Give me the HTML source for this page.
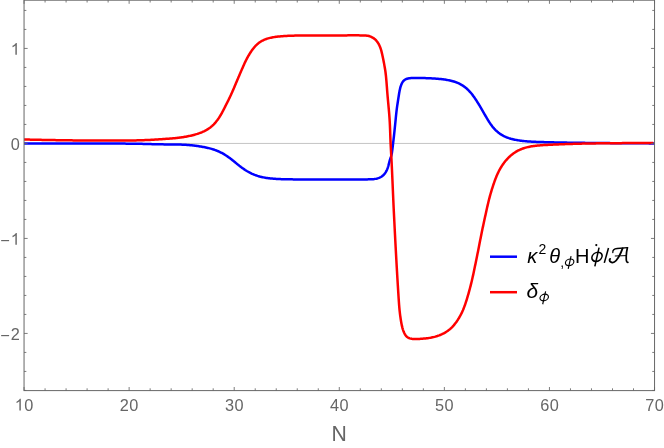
<!DOCTYPE html>
<html><head><meta charset="utf-8"><title>plot</title>
<style>
html,body{margin:0;padding:0;background:#fff;}
svg{display:block;will-change:transform;}
text{font-family:"Liberation Sans",sans-serif;}
</style></head>
<body>
<svg width="664" height="448" viewBox="0 0 664 448">
<rect width="664" height="448" fill="#fff"/>
<line x1="24.05" x2="654.55" y1="143.43" y2="143.43" stroke="#c4c4c4" stroke-width="1"/>
<path d="M24.05,143.50 L25.71,143.50 L26.53,143.50 L27.45,143.50 L28.40,143.50 L29.35,143.50 L30.30,143.50 L31.26,143.50 L32.21,143.50 L33.17,143.50 L34.14,143.50 L35.11,143.50 L36.09,143.50 L37.08,143.50 L38.07,143.50 L39.06,143.50 L40.06,143.50 L41.05,143.50 L42.05,143.50 L43.05,143.50 L44.05,143.50 L45.05,143.50 L46.05,143.50 L47.05,143.50 L48.05,143.50 L49.05,143.50 L50.05,143.50 L51.05,143.50 L52.05,143.50 L53.05,143.50 L54.05,143.50 L55.05,143.50 L56.05,143.50 L57.05,143.50 L58.05,143.50 L59.05,143.50 L60.05,143.50 L61.05,143.50 L62.05,143.50 L63.05,143.50 L64.05,143.50 L65.05,143.50 L66.05,143.50 L67.05,143.50 L68.05,143.50 L69.05,143.50 L70.05,143.50 L71.05,143.50 L72.05,143.50 L73.05,143.50 L74.05,143.50 L75.05,143.50 L76.05,143.50 L77.05,143.50 L78.05,143.50 L79.05,143.50 L80.05,143.50 L81.05,143.50 L82.05,143.50 L83.05,143.50 L84.05,143.50 L85.05,143.50 L86.05,143.50 L87.05,143.50 L88.05,143.50 L89.05,143.50 L90.05,143.50 L91.05,143.50 L92.05,143.50 L93.05,143.50 L94.05,143.50 L95.05,143.50 L96.05,143.50 L97.05,143.50 L98.05,143.50 L99.05,143.50 L100.05,143.50 L101.05,143.50 L102.05,143.50 L103.05,143.50 L104.05,143.51 L105.05,143.51 L106.05,143.51 L107.05,143.51 L108.05,143.52 L109.05,143.52 L110.05,143.52 L111.05,143.53 L112.05,143.53 L113.05,143.53 L114.05,143.54 L115.05,143.55 L116.05,143.55 L117.05,143.56 L118.05,143.56 L119.05,143.57 L120.05,143.58 L121.05,143.59 L122.05,143.60 L123.05,143.60 L124.05,143.61 L125.05,143.62 L126.05,143.63 L127.05,143.64 L128.05,143.65 L129.05,143.66 L130.05,143.67 L131.05,143.68 L132.05,143.70 L133.05,143.71 L134.05,143.72 L135.05,143.74 L136.05,143.75 L137.05,143.77 L138.05,143.79 L139.05,143.80 L140.05,143.82 L141.05,143.84 L142.05,143.87 L143.05,143.89 L144.05,143.92 L145.05,143.94 L146.05,143.97 L147.05,144.00 L148.05,144.03 L149.05,144.05 L150.04,144.08 L151.04,144.11 L152.04,144.14 L153.04,144.17 L154.04,144.19 L155.04,144.22 L156.04,144.24 L157.04,144.27 L158.04,144.29 L159.04,144.31 L160.04,144.33 L161.04,144.34 L162.04,144.36 L163.04,144.37 L164.04,144.39 L165.04,144.40 L166.04,144.41 L167.04,144.42 L168.04,144.42 L169.04,144.43 L170.04,144.44 L171.04,144.45 L172.04,144.46 L173.04,144.47 L174.04,144.48 L175.04,144.49 L176.04,144.50 L177.04,144.52 L178.04,144.54 L179.04,144.56 L180.04,144.59 L181.04,144.62 L182.04,144.66 L183.04,144.70 L184.03,144.75 L185.03,144.80 L186.03,144.86 L187.03,144.92 L188.02,144.99 L189.02,145.07 L190.01,145.16 L191.01,145.25 L192.00,145.35 L193.00,145.46 L193.99,145.58 L194.98,145.70 L195.97,145.83 L196.96,145.97 L197.95,146.11 L198.94,146.26 L199.92,146.42 L200.91,146.58 L201.89,146.75 L202.88,146.92 L203.86,147.10 L204.84,147.29 L205.82,147.49 L206.80,147.69 L207.77,147.91 L208.74,148.14 L209.71,148.38 L210.67,148.63 L211.63,148.90 L212.59,149.18 L213.53,149.48 L214.48,149.80 L215.41,150.14 L216.34,150.49 L217.27,150.86 L218.18,151.24 L219.09,151.65 L219.99,152.07 L220.88,152.51 L221.77,152.97 L222.64,153.44 L223.51,153.93 L224.36,154.43 L225.21,154.95 L226.05,155.49 L226.88,156.04 L227.70,156.60 L228.52,157.17 L229.32,157.76 L230.12,158.36 L230.91,158.96 L231.70,159.58 L232.48,160.20 L233.26,160.83 L234.04,161.46 L234.81,162.09 L235.58,162.72 L236.36,163.36 L237.13,163.99 L237.91,164.62 L238.69,165.24 L239.47,165.86 L240.26,166.47 L241.05,167.08 L241.86,167.67 L242.66,168.25 L243.48,168.83 L244.30,169.39 L245.13,169.94 L245.97,170.47 L246.82,170.99 L247.68,171.49 L248.55,171.98 L249.42,172.46 L250.30,172.91 L251.20,173.35 L252.10,173.78 L253.00,174.18 L253.92,174.57 L254.84,174.94 L255.77,175.28 L256.71,175.61 L257.65,175.92 L258.60,176.21 L259.55,176.49 L260.51,176.74 L261.48,176.97 L262.45,177.19 L263.43,177.39 L264.40,177.58 L265.39,177.75 L266.37,177.90 L267.36,178.05 L268.35,178.18 L269.34,178.30 L270.33,178.41 L271.32,178.51 L272.32,178.60 L273.31,178.69 L274.31,178.77 L275.31,178.84 L276.30,178.90 L277.30,178.96 L278.30,179.01 L279.30,179.06 L280.30,179.10 L281.30,179.14 L282.30,179.18 L283.30,179.21 L284.29,179.24 L285.29,179.26 L286.29,179.29 L287.29,179.31 L288.29,179.32 L289.29,179.34 L290.29,179.35 L291.29,179.36 L292.29,179.37 L293.29,179.38 L294.29,179.38 L295.29,179.39 L296.29,179.39 L297.29,179.39 L298.29,179.39 L299.29,179.40 L300.29,179.40 L301.29,179.40 L302.29,179.40 L303.29,179.40 L304.29,179.40 L305.29,179.40 L306.29,179.40 L307.29,179.40 L308.29,179.40 L309.29,179.40 L310.29,179.40 L311.29,179.40 L312.29,179.40 L313.29,179.40 L314.29,179.40 L315.29,179.40 L316.29,179.40 L317.29,179.40 L318.29,179.40 L319.29,179.40 L320.29,179.40 L321.29,179.40 L322.29,179.40 L323.29,179.40 L324.29,179.40 L325.29,179.40 L326.29,179.40 L327.29,179.40 L328.29,179.40 L329.29,179.40 L330.29,179.40 L331.29,179.40 L332.29,179.40 L333.29,179.40 L334.29,179.41 L335.29,179.41 L336.29,179.41 L337.29,179.41 L338.29,179.41 L339.29,179.41 L340.29,179.41 L341.29,179.42 L342.29,179.42 L343.29,179.42 L344.29,179.42 L345.29,179.43 L346.29,179.43 L347.29,179.43 L348.29,179.43 L349.29,179.44 L350.29,179.44 L351.29,179.44 L352.29,179.44 L353.29,179.44 L354.29,179.44 L355.29,179.45 L356.29,179.45 L357.29,179.45 L358.29,179.45 L359.29,179.45 L360.29,179.45 L361.29,179.44 L362.29,179.44 L363.29,179.43 L364.29,179.43 L365.29,179.42 L366.29,179.41 L367.29,179.39 L368.30,179.37 L369.30,179.35 L370.30,179.32 L371.30,179.28 L372.29,179.23 L373.29,179.14 L374.29,179.03 L375.29,178.87 L376.28,178.68 L377.25,178.44 L378.20,178.17 L379.13,177.84 L380.04,177.45 L380.92,176.99 L381.77,176.46 L382.57,175.86 L383.31,175.20 L384.01,174.50 L384.65,173.74 L385.23,172.94 L385.78,172.10 L386.27,171.22 L386.72,170.32 L387.12,169.41 L387.48,168.48 L387.81,167.54 L388.12,166.59 L388.41,165.62 L388.67,164.65 L388.92,163.68 L389.16,162.71 L389.39,161.74 L389.64,160.77 L389.92,159.81 L390.23,158.86 L390.56,157.93 L390.89,156.99 L391.19,156.05 L391.44,155.10 L391.66,154.13 L391.84,153.16 L392.01,152.18 L392.15,151.19 L392.29,150.19 L392.42,149.19 L392.54,148.19 L392.66,147.19 L392.77,146.19 L392.89,145.19 L393.01,144.20 L393.13,143.20 L393.24,142.21 L393.36,141.21 L393.48,140.22 L393.59,139.23 L393.70,138.23 L393.81,137.24 L393.92,136.24 L394.03,135.25 L394.14,134.26 L394.24,133.26 L394.34,132.27 L394.45,131.27 L394.55,130.28 L394.65,129.28 L394.76,128.29 L394.86,127.29 L394.96,126.30 L395.07,125.30 L395.17,124.31 L395.27,123.31 L395.37,122.32 L395.47,121.32 L395.57,120.33 L395.67,119.33 L395.76,118.34 L395.86,117.34 L395.96,116.35 L396.06,115.35 L396.17,114.36 L396.27,113.36 L396.38,112.37 L396.49,111.37 L396.61,110.38 L396.73,109.39 L396.86,108.40 L396.99,107.41 L397.13,106.42 L397.27,105.43 L397.42,104.44 L397.57,103.45 L397.72,102.46 L397.87,101.47 L398.03,100.48 L398.18,99.50 L398.34,98.51 L398.49,97.52 L398.65,96.53 L398.80,95.54 L398.96,94.55 L399.11,93.56 L399.28,92.57 L399.45,91.59 L399.64,90.60 L399.84,89.63 L400.06,88.65 L400.31,87.68 L400.59,86.72 L400.90,85.76 L401.24,84.82 L401.63,83.90 L402.07,83.00 L402.57,82.13 L403.14,81.32 L403.79,80.59 L404.52,79.97 L405.33,79.45 L406.21,79.04 L407.14,78.71 L408.11,78.47 L409.10,78.31 L410.09,78.19 L411.08,78.11 L412.08,78.05 L413.08,78.01 L414.08,77.97 L415.09,77.95 L416.09,77.93 L417.10,77.92 L418.10,77.92 L419.10,77.93 L420.10,77.94 L421.10,77.96 L422.10,77.99 L423.10,78.02 L424.10,78.05 L425.10,78.09 L426.10,78.13 L427.10,78.17 L428.10,78.22 L429.10,78.26 L430.10,78.31 L431.09,78.36 L432.09,78.42 L433.09,78.47 L434.09,78.54 L435.09,78.60 L436.08,78.67 L437.08,78.75 L438.08,78.83 L439.07,78.92 L440.07,79.01 L441.06,79.11 L442.05,79.23 L443.05,79.34 L444.04,79.47 L445.02,79.61 L446.01,79.77 L446.99,79.93 L447.98,80.11 L448.95,80.30 L449.93,80.50 L450.90,80.73 L451.86,80.97 L452.82,81.23 L453.77,81.50 L454.72,81.80 L455.66,82.12 L456.58,82.46 L457.50,82.83 L458.40,83.22 L459.30,83.64 L460.18,84.09 L461.04,84.55 L461.89,85.05 L462.73,85.57 L463.54,86.12 L464.35,86.69 L465.13,87.29 L465.90,87.91 L466.65,88.55 L467.38,89.21 L468.10,89.89 L468.79,90.59 L469.48,91.31 L470.14,92.05 L470.79,92.80 L471.43,93.56 L472.05,94.34 L472.66,95.13 L473.25,95.92 L473.84,96.73 L474.41,97.55 L474.98,98.37 L475.54,99.20 L476.09,100.03 L476.63,100.87 L477.16,101.71 L477.69,102.56 L478.22,103.41 L478.74,104.26 L479.26,105.12 L479.77,105.98 L480.28,106.84 L480.79,107.70 L481.29,108.56 L481.80,109.43 L482.30,110.30 L482.79,111.16 L483.29,112.03 L483.79,112.90 L484.29,113.77 L484.78,114.64 L485.28,115.50 L485.78,116.37 L486.28,117.24 L486.79,118.10 L487.30,118.96 L487.81,119.81 L488.34,120.66 L488.87,121.51 L489.41,122.35 L489.96,123.18 L490.52,124.00 L491.10,124.81 L491.69,125.61 L492.30,126.40 L492.92,127.17 L493.56,127.93 L494.21,128.67 L494.89,129.39 L495.58,130.10 L496.29,130.78 L497.03,131.44 L497.77,132.09 L498.54,132.70 L499.33,133.29 L500.13,133.86 L500.95,134.41 L501.79,134.92 L502.64,135.41 L503.51,135.88 L504.39,136.32 L505.29,136.73 L506.20,137.12 L507.12,137.49 L508.04,137.83 L508.98,138.16 L509.93,138.46 L510.88,138.74 L511.84,139.00 L512.81,139.24 L513.78,139.47 L514.75,139.68 L515.73,139.88 L516.71,140.06 L517.69,140.23 L518.68,140.39 L519.67,140.53 L520.66,140.67 L521.65,140.80 L522.64,140.91 L523.64,141.02 L524.63,141.12 L525.63,141.22 L526.62,141.30 L527.62,141.39 L528.62,141.46 L529.61,141.53 L530.61,141.59 L531.61,141.65 L532.61,141.71 L533.61,141.76 L534.61,141.81 L535.60,141.85 L536.60,141.89 L537.60,141.93 L538.60,141.97 L539.60,142.00 L540.60,142.03 L541.60,142.06 L542.60,142.09 L543.60,142.12 L544.60,142.14 L545.60,142.17 L546.60,142.19 L547.60,142.22 L548.60,142.24 L549.60,142.27 L550.60,142.29 L551.60,142.31 L552.60,142.33 L553.60,142.36 L554.60,142.38 L555.60,142.40 L556.60,142.42 L557.60,142.44 L558.60,142.47 L559.59,142.49 L560.59,142.51 L561.59,142.53 L562.59,142.55 L563.59,142.56 L564.59,142.58 L565.59,142.60 L566.59,142.62 L567.59,142.63 L568.59,142.65 L569.59,142.67 L570.59,142.68 L571.59,142.70 L572.59,142.71 L573.59,142.73 L574.59,142.74 L575.59,142.76 L576.59,142.77 L577.59,142.78 L578.59,142.80 L579.59,142.81 L580.59,142.82 L581.59,142.83 L582.59,142.85 L583.59,142.86 L584.59,142.87 L585.59,142.88 L586.59,142.89 L587.59,142.90 L588.59,142.91 L589.59,142.93 L590.59,142.94 L591.59,142.95 L592.59,142.96 L593.59,142.97 L594.59,142.98 L595.59,142.99 L596.59,143.00 L597.59,143.01 L598.59,143.02 L599.59,143.03 L600.59,143.04 L601.59,143.05 L602.59,143.06 L603.59,143.07 L604.59,143.07 L605.59,143.08 L606.59,143.09 L607.59,143.10 L608.59,143.11 L609.59,143.12 L610.59,143.13 L611.59,143.13 L612.59,143.14 L613.59,143.15 L614.59,143.16 L615.59,143.17 L616.59,143.17 L617.59,143.18 L618.59,143.19 L619.59,143.20 L620.59,143.20 L621.59,143.21 L622.59,143.22 L623.59,143.22 L624.59,143.23 L625.59,143.24 L626.59,143.24 L627.59,143.25 L628.59,143.26 L629.59,143.26 L630.59,143.27 L631.59,143.28 L632.59,143.28 L633.59,143.29 L634.59,143.30 L635.59,143.30 L636.59,143.31 L637.59,143.31 L638.58,143.32 L639.58,143.32 L640.57,143.33 L641.56,143.34 L642.54,143.34 L643.52,143.35 L644.49,143.35 L645.45,143.36 L646.40,143.36 L647.35,143.37 L648.29,143.37 L649.22,143.38 L650.16,143.38 L651.09,143.38 L651.98,143.39 L652.80,143.39 L654.50,143.40" fill="none" stroke="#0000ff" stroke-width="2.5" stroke-linejoin="round"/>
<path d="M24.05,139.50 L25.71,139.54 L26.53,139.56 L27.45,139.58 L28.40,139.60 L29.35,139.62 L30.30,139.64 L31.25,139.67 L32.21,139.69 L33.17,139.71 L34.14,139.73 L35.11,139.75 L36.09,139.77 L37.08,139.79 L38.06,139.81 L39.06,139.83 L40.05,139.85 L41.05,139.87 L42.05,139.89 L43.05,139.91 L44.05,139.93 L45.05,139.95 L46.05,139.97 L47.05,139.99 L48.04,140.01 L49.04,140.02 L50.04,140.04 L51.04,140.06 L52.04,140.07 L53.04,140.09 L54.04,140.11 L55.04,140.12 L56.04,140.14 L57.04,140.15 L58.04,140.17 L59.04,140.18 L60.04,140.20 L61.04,140.21 L62.04,140.23 L63.04,140.24 L64.04,140.25 L65.04,140.27 L66.04,140.28 L67.04,140.30 L68.04,140.31 L69.04,140.32 L70.04,140.34 L71.04,140.35 L72.04,140.36 L73.04,140.38 L74.04,140.39 L75.04,140.40 L76.04,140.41 L77.04,140.43 L78.04,140.44 L79.04,140.45 L80.04,140.46 L81.04,140.47 L82.04,140.48 L83.04,140.49 L84.04,140.50 L85.04,140.51 L86.04,140.52 L87.04,140.53 L88.04,140.54 L89.04,140.55 L90.04,140.55 L91.04,140.56 L92.04,140.56 L93.04,140.57 L94.04,140.57 L95.04,140.58 L96.04,140.58 L97.04,140.59 L98.04,140.59 L99.04,140.59 L100.04,140.59 L101.04,140.59 L102.04,140.59 L103.04,140.59 L104.04,140.59 L105.04,140.59 L106.04,140.59 L107.04,140.59 L108.04,140.58 L109.04,140.58 L110.04,140.58 L111.04,140.58 L112.04,140.57 L113.04,140.57 L114.04,140.57 L115.04,140.56 L116.04,140.56 L117.04,140.55 L118.04,140.55 L119.04,140.54 L120.04,140.54 L121.04,140.53 L122.04,140.52 L123.04,140.52 L124.04,140.51 L125.04,140.50 L126.04,140.50 L127.04,140.49 L128.04,140.48 L129.04,140.47 L130.04,140.46 L131.04,140.45 L132.04,140.44 L133.04,140.43 L134.04,140.41 L135.04,140.40 L136.04,140.38 L137.04,140.36 L138.04,140.34 L139.04,140.32 L140.04,140.29 L141.04,140.26 L142.04,140.23 L143.04,140.20 L144.03,140.16 L145.03,140.12 L146.03,140.08 L147.03,140.03 L148.03,139.98 L149.03,139.93 L150.03,139.88 L151.03,139.82 L152.02,139.76 L153.02,139.70 L154.02,139.64 L155.02,139.58 L156.02,139.52 L157.02,139.46 L158.02,139.39 L159.01,139.33 L160.01,139.26 L161.01,139.20 L162.01,139.13 L163.01,139.07 L164.01,139.00 L165.00,138.93 L166.00,138.86 L167.00,138.79 L168.00,138.72 L169.00,138.65 L169.99,138.58 L170.99,138.50 L171.99,138.42 L172.98,138.33 L173.98,138.24 L174.97,138.15 L175.97,138.05 L176.96,137.95 L177.95,137.83 L178.95,137.72 L179.94,137.59 L180.93,137.46 L181.91,137.32 L182.90,137.17 L183.89,137.01 L184.87,136.84 L185.86,136.67 L186.84,136.48 L187.82,136.29 L188.80,136.09 L189.77,135.88 L190.75,135.66 L191.72,135.43 L192.69,135.19 L193.66,134.94 L194.62,134.68 L195.58,134.41 L196.54,134.12 L197.49,133.83 L198.43,133.51 L199.38,133.19 L200.31,132.85 L201.24,132.49 L202.16,132.11 L203.07,131.71 L203.97,131.30 L204.85,130.86 L205.73,130.40 L206.59,129.92 L207.44,129.41 L208.27,128.88 L209.08,128.33 L209.88,127.75 L210.66,127.15 L211.41,126.53 L212.16,125.88 L212.88,125.21 L213.58,124.52 L214.27,123.80 L214.94,123.07 L215.59,122.33 L216.22,121.57 L216.84,120.79 L217.44,120.00 L218.02,119.19 L218.59,118.38 L219.14,117.55 L219.68,116.72 L220.20,115.87 L220.71,115.01 L221.21,114.15 L221.70,113.28 L222.18,112.41 L222.65,111.53 L223.11,110.64 L223.57,109.75 L224.02,108.86 L224.47,107.97 L224.92,107.08 L225.37,106.18 L225.82,105.29 L226.27,104.40 L226.72,103.50 L227.17,102.61 L227.62,101.72 L228.07,100.82 L228.51,99.93 L228.95,99.03 L229.39,98.13 L229.83,97.24 L230.26,96.33 L230.69,95.43 L231.11,94.52 L231.52,93.61 L231.93,92.70 L232.34,91.79 L232.74,90.87 L233.13,89.96 L233.53,89.04 L233.92,88.12 L234.30,87.19 L234.69,86.27 L235.08,85.35 L235.46,84.43 L235.85,83.50 L236.23,82.58 L236.62,81.66 L237.01,80.74 L237.40,79.82 L237.79,78.90 L238.18,77.98 L238.57,77.06 L238.97,76.14 L239.36,75.22 L239.76,74.30 L240.15,73.38 L240.55,72.46 L240.95,71.55 L241.34,70.63 L241.74,69.71 L242.14,68.79 L242.54,67.88 L242.94,66.96 L243.34,66.04 L243.74,65.13 L244.16,64.22 L244.57,63.31 L245.00,62.41 L245.43,61.51 L245.86,60.61 L246.31,59.72 L246.77,58.83 L247.24,57.95 L247.72,57.08 L248.21,56.21 L248.71,55.35 L249.22,54.49 L249.74,53.64 L250.28,52.80 L250.82,51.96 L251.38,51.14 L251.95,50.32 L252.54,49.52 L253.14,48.73 L253.75,47.95 L254.38,47.19 L255.03,46.45 L255.70,45.73 L256.39,45.04 L257.10,44.37 L257.83,43.73 L258.59,43.11 L259.37,42.53 L260.17,41.97 L260.99,41.45 L261.83,40.96 L262.69,40.51 L263.57,40.08 L264.46,39.69 L265.37,39.32 L266.30,38.98 L267.23,38.67 L268.18,38.38 L269.13,38.12 L270.09,37.88 L271.06,37.66 L272.03,37.46 L273.01,37.28 L273.99,37.11 L274.97,36.96 L275.96,36.83 L276.95,36.70 L277.94,36.59 L278.94,36.49 L279.93,36.39 L280.93,36.30 L281.92,36.22 L282.92,36.15 L283.92,36.09 L284.91,36.02 L285.91,35.97 L286.91,35.91 L287.91,35.87 L288.91,35.82 L289.91,35.78 L290.91,35.74 L291.91,35.71 L292.91,35.67 L293.91,35.64 L294.91,35.62 L295.90,35.59 L296.90,35.57 L297.90,35.55 L298.90,35.53 L299.90,35.52 L300.90,35.50 L301.90,35.49 L302.90,35.48 L303.90,35.47 L304.90,35.46 L305.90,35.45 L306.90,35.44 L307.90,35.43 L308.90,35.43 L309.90,35.42 L310.90,35.42 L311.90,35.41 L312.90,35.41 L313.90,35.41 L314.90,35.41 L315.90,35.40 L316.90,35.40 L317.90,35.40 L318.90,35.40 L319.90,35.40 L320.90,35.40 L321.90,35.40 L322.90,35.40 L323.90,35.40 L324.90,35.40 L325.90,35.40 L326.90,35.40 L327.90,35.40 L328.90,35.40 L329.90,35.40 L330.90,35.40 L331.90,35.40 L332.90,35.40 L333.90,35.40 L334.90,35.40 L335.90,35.40 L336.90,35.40 L337.90,35.40 L338.90,35.40 L339.90,35.40 L340.90,35.40 L341.90,35.40 L342.90,35.39 L343.90,35.39 L344.90,35.39 L345.90,35.38 L346.90,35.38 L347.90,35.37 L348.90,35.37 L349.90,35.36 L350.90,35.36 L351.90,35.36 L352.90,35.35 L353.90,35.35 L354.90,35.35 L355.90,35.35 L356.90,35.36 L357.90,35.36 L358.90,35.37 L359.90,35.38 L360.91,35.39 L361.91,35.41 L362.91,35.43 L363.91,35.46 L364.91,35.50 L365.91,35.56 L366.90,35.66 L367.88,35.80 L368.85,36.01 L369.80,36.30 L370.73,36.65 L371.64,37.07 L372.52,37.54 L373.37,38.06 L374.19,38.64 L374.96,39.27 L375.69,39.94 L376.36,40.67 L376.99,41.44 L377.58,42.24 L378.13,43.08 L378.63,43.95 L379.10,44.83 L379.53,45.73 L379.93,46.65 L380.30,47.58 L380.63,48.52 L380.94,49.48 L381.22,50.43 L381.48,51.40 L381.72,52.37 L381.95,53.34 L382.17,54.32 L382.38,55.30 L382.60,56.28 L382.81,57.25 L383.02,58.23 L383.23,59.21 L383.43,60.19 L383.62,61.17 L383.81,62.15 L383.99,63.14 L384.17,64.12 L384.34,65.11 L384.51,66.09 L384.68,67.08 L384.85,68.06 L385.02,69.05 L385.18,70.04 L385.34,71.02 L385.48,72.01 L385.60,73.00 L385.72,73.99 L385.83,74.99 L385.94,75.98 L386.04,76.97 L386.13,77.97 L386.22,78.96 L386.31,79.96 L386.40,80.96 L386.48,81.95 L386.56,82.95 L386.64,83.95 L386.72,84.95 L386.79,85.94 L386.87,86.94 L386.95,87.94 L387.02,88.94 L387.10,89.94 L387.17,90.93 L387.25,91.93 L387.33,92.93 L387.41,93.93 L387.50,94.92 L387.58,95.92 L387.67,96.92 L387.76,97.91 L387.85,98.91 L387.94,99.90 L388.03,100.90 L388.12,101.90 L388.21,102.89 L388.31,103.89 L388.40,104.88 L388.49,105.88 L388.58,106.88 L388.67,107.87 L388.76,108.87 L388.85,109.87 L388.94,110.86 L389.03,111.86 L389.11,112.85 L389.19,113.85 L389.27,114.85 L389.35,115.85 L389.42,116.84 L389.49,117.84 L389.56,118.84 L389.62,119.83 L389.68,120.83 L389.74,121.83 L389.79,122.83 L389.84,123.83 L389.88,124.82 L389.93,125.82 L389.97,126.82 L390.01,127.82 L390.05,128.82 L390.09,129.82 L390.13,130.82 L390.16,131.82 L390.20,132.82 L390.23,133.82 L390.27,134.82 L390.30,135.82 L390.34,136.82 L390.37,137.82 L390.41,138.82 L390.45,139.81 L390.49,140.81 L390.53,141.81 L390.58,142.81 L390.62,143.81 L390.67,144.81 L390.72,145.81 L390.77,146.81 L390.83,147.81 L390.88,148.80 L390.93,149.80 L390.99,150.80 L391.05,151.80 L391.10,152.80 L391.16,153.80 L391.22,154.80 L391.27,155.79 L391.33,156.79 L391.38,157.79 L391.44,158.79 L391.49,159.79 L391.54,160.79 L391.59,161.79 L391.64,162.78 L391.69,163.78 L391.73,164.78 L391.78,165.78 L391.83,166.78 L391.88,167.78 L391.92,168.78 L391.97,169.78 L392.02,170.78 L392.06,171.77 L392.11,172.77 L392.15,173.77 L392.20,174.77 L392.24,175.77 L392.29,176.77 L392.33,177.77 L392.37,178.77 L392.42,179.77 L392.46,180.77 L392.51,181.76 L392.55,182.76 L392.59,183.76 L392.64,184.76 L392.68,185.76 L392.72,186.76 L392.76,187.76 L392.81,188.76 L392.85,189.76 L392.89,190.76 L392.94,191.76 L392.98,192.75 L393.02,193.75 L393.07,194.75 L393.11,195.75 L393.16,196.75 L393.20,197.75 L393.24,198.75 L393.29,199.75 L393.33,200.75 L393.38,201.75 L393.42,202.74 L393.47,203.74 L393.51,204.74 L393.56,205.74 L393.60,206.74 L393.65,207.74 L393.70,208.74 L393.75,209.74 L393.79,210.74 L393.84,211.73 L393.89,212.73 L393.94,213.73 L393.99,214.73 L394.04,215.73 L394.09,216.73 L394.14,217.73 L394.19,218.73 L394.24,219.72 L394.29,220.72 L394.34,221.72 L394.39,222.72 L394.44,223.72 L394.49,224.72 L394.54,225.72 L394.59,226.72 L394.64,227.71 L394.69,228.71 L394.74,229.71 L394.79,230.71 L394.84,231.71 L394.89,232.71 L394.94,233.71 L395.00,234.71 L395.05,235.70 L395.10,236.70 L395.15,237.70 L395.20,238.70 L395.25,239.70 L395.31,240.70 L395.36,241.70 L395.41,242.70 L395.46,243.69 L395.52,244.69 L395.57,245.69 L395.62,246.69 L395.68,247.69 L395.73,248.69 L395.78,249.69 L395.84,250.68 L395.89,251.68 L395.94,252.68 L396.00,253.68 L396.05,254.68 L396.11,255.68 L396.16,256.68 L396.22,257.67 L396.27,258.67 L396.33,259.67 L396.38,260.67 L396.44,261.67 L396.49,262.67 L396.55,263.67 L396.61,264.66 L396.66,265.66 L396.72,266.66 L396.78,267.66 L396.84,268.66 L396.89,269.66 L396.95,270.65 L397.01,271.65 L397.07,272.65 L397.12,273.65 L397.18,274.65 L397.24,275.65 L397.30,276.64 L397.36,277.64 L397.42,278.64 L397.48,279.64 L397.54,280.64 L397.60,281.63 L397.66,282.63 L397.72,283.63 L397.78,284.63 L397.84,285.63 L397.91,286.63 L397.97,287.62 L398.03,288.62 L398.09,289.62 L398.16,290.62 L398.22,291.62 L398.28,292.61 L398.35,293.61 L398.41,294.61 L398.47,295.61 L398.54,296.60 L398.60,297.60 L398.67,298.60 L398.73,299.60 L398.80,300.60 L398.87,301.60 L398.94,302.59 L399.01,303.59 L399.08,304.59 L399.16,305.58 L399.24,306.58 L399.33,307.58 L399.42,308.57 L399.51,309.57 L399.61,310.56 L399.72,311.56 L399.83,312.55 L399.94,313.55 L400.07,314.54 L400.19,315.53 L400.33,316.52 L400.47,317.51 L400.61,318.50 L400.76,319.49 L400.92,320.48 L401.08,321.47 L401.26,322.45 L401.44,323.44 L401.64,324.42 L401.84,325.40 L402.07,326.37 L402.30,327.34 L402.56,328.31 L402.84,329.28 L403.15,330.23 L403.49,331.18 L403.85,332.11 L404.26,333.02 L404.72,333.90 L405.23,334.76 L405.81,335.57 L406.46,336.31 L407.18,336.97 L407.98,337.53 L408.84,337.99 L409.75,338.34 L410.70,338.60 L411.68,338.79 L412.66,338.91 L413.66,339.00 L414.67,339.04 L415.67,339.05 L416.67,339.04 L417.67,339.01 L418.67,338.96 L419.67,338.91 L420.67,338.85 L421.66,338.77 L422.66,338.69 L423.66,338.60 L424.65,338.51 L425.65,338.40 L426.64,338.28 L427.63,338.15 L428.62,338.02 L429.61,337.86 L430.60,337.70 L431.58,337.51 L432.56,337.31 L433.53,337.10 L434.50,336.86 L435.46,336.60 L436.42,336.31 L437.37,336.01 L438.31,335.68 L439.24,335.34 L440.16,334.97 L441.08,334.58 L441.98,334.18 L442.87,333.75 L443.75,333.30 L444.62,332.82 L445.47,332.33 L446.31,331.81 L447.13,331.27 L447.94,330.70 L448.72,330.11 L449.49,329.50 L450.25,328.86 L450.98,328.21 L451.69,327.53 L452.39,326.83 L453.06,326.11 L453.72,325.37 L454.35,324.61 L454.97,323.84 L455.58,323.05 L456.17,322.26 L456.74,321.44 L457.30,320.62 L457.85,319.79 L458.38,318.95 L458.90,318.10 L459.41,317.25 L459.90,316.38 L460.38,315.51 L460.85,314.63 L461.30,313.75 L461.74,312.85 L462.16,311.96 L462.57,311.05 L462.97,310.14 L463.35,309.22 L463.72,308.29 L464.08,307.36 L464.43,306.43 L464.77,305.49 L465.10,304.55 L465.43,303.60 L465.74,302.66 L466.05,301.71 L466.36,300.75 L466.66,299.80 L466.95,298.85 L467.24,297.89 L467.53,296.93 L467.81,295.97 L468.09,295.01 L468.37,294.05 L468.64,293.09 L468.91,292.13 L469.17,291.16 L469.44,290.20 L469.70,289.23 L469.95,288.27 L470.21,287.30 L470.46,286.33 L470.71,285.36 L470.95,284.39 L471.19,283.42 L471.43,282.45 L471.67,281.48 L471.90,280.51 L472.12,279.53 L472.35,278.56 L472.57,277.58 L472.78,276.61 L473.00,275.63 L473.21,274.65 L473.42,273.68 L473.63,272.70 L473.83,271.72 L474.04,270.74 L474.24,269.76 L474.44,268.78 L474.65,267.80 L474.85,266.82 L475.05,265.84 L475.26,264.87 L475.46,263.89 L475.66,262.91 L475.86,261.93 L476.06,260.95 L476.27,259.97 L476.47,258.99 L476.67,258.01 L476.87,257.03 L477.07,256.05 L477.27,255.07 L477.46,254.09 L477.66,253.11 L477.86,252.13 L478.05,251.15 L478.25,250.17 L478.44,249.19 L478.63,248.20 L478.83,247.22 L479.02,246.24 L479.21,245.26 L479.40,244.28 L479.59,243.30 L479.78,242.32 L479.98,241.33 L480.17,240.35 L480.36,239.37 L480.55,238.39 L480.75,237.41 L480.94,236.43 L481.14,235.45 L481.34,234.47 L481.53,233.49 L481.73,232.51 L481.93,231.53 L482.14,230.55 L482.34,229.57 L482.54,228.59 L482.75,227.61 L482.96,226.63 L483.16,225.66 L483.37,224.68 L483.58,223.70 L483.79,222.72 L484.00,221.74 L484.22,220.77 L484.43,219.79 L484.64,218.81 L484.86,217.84 L485.07,216.86 L485.28,215.88 L485.50,214.90 L485.71,213.93 L485.93,212.95 L486.14,211.97 L486.36,211.00 L486.57,210.02 L486.79,209.04 L487.01,208.07 L487.23,207.09 L487.45,206.12 L487.67,205.14 L487.90,204.17 L488.13,203.19 L488.36,202.22 L488.60,201.25 L488.84,200.28 L489.08,199.31 L489.33,198.35 L489.59,197.38 L489.85,196.41 L490.11,195.45 L490.38,194.49 L490.65,193.53 L490.93,192.57 L491.22,191.61 L491.51,190.65 L491.80,189.70 L492.10,188.74 L492.40,187.79 L492.70,186.84 L493.01,185.89 L493.32,184.94 L493.64,183.99 L493.96,183.04 L494.29,182.10 L494.62,181.15 L494.96,180.22 L495.31,179.28 L495.66,178.35 L496.03,177.42 L496.41,176.49 L496.79,175.57 L497.19,174.66 L497.60,173.75 L498.03,172.85 L498.46,171.95 L498.91,171.06 L499.37,170.18 L499.85,169.31 L500.34,168.44 L500.84,167.58 L501.36,166.73 L501.90,165.89 L502.44,165.06 L503.00,164.24 L503.58,163.43 L504.17,162.63 L504.78,161.84 L505.41,161.07 L506.04,160.31 L506.70,159.56 L507.37,158.83 L508.06,158.12 L508.76,157.42 L509.47,156.73 L510.21,156.06 L510.96,155.42 L511.72,154.78 L512.50,154.17 L513.29,153.58 L514.10,153.01 L514.92,152.46 L515.76,151.93 L516.61,151.43 L517.47,150.94 L518.35,150.48 L519.23,150.05 L520.13,149.64 L521.04,149.25 L521.96,148.88 L522.89,148.54 L523.82,148.22 L524.77,147.92 L525.72,147.64 L526.68,147.38 L527.64,147.14 L528.61,146.92 L529.58,146.71 L530.56,146.53 L531.54,146.35 L532.53,146.20 L533.51,146.05 L534.50,145.92 L535.49,145.80 L536.48,145.69 L537.48,145.58 L538.47,145.49 L539.47,145.40 L540.46,145.32 L541.46,145.25 L542.46,145.18 L543.46,145.11 L544.45,145.05 L545.45,144.99 L546.45,144.94 L547.45,144.88 L548.45,144.83 L549.45,144.78 L550.44,144.73 L551.44,144.68 L552.44,144.64 L553.44,144.59 L554.44,144.55 L555.44,144.50 L556.44,144.46 L557.44,144.42 L558.44,144.38 L559.44,144.34 L560.44,144.30 L561.43,144.26 L562.43,144.22 L563.43,144.18 L564.43,144.15 L565.43,144.11 L566.43,144.08 L567.43,144.04 L568.43,144.01 L569.43,143.97 L570.43,143.94 L571.43,143.91 L572.43,143.88 L573.43,143.85 L574.43,143.82 L575.43,143.79 L576.43,143.76 L577.43,143.73 L578.43,143.70 L579.43,143.68 L580.43,143.65 L581.42,143.63 L582.42,143.61 L583.42,143.59 L584.42,143.57 L585.42,143.55 L586.42,143.53 L587.42,143.51 L588.42,143.49 L589.42,143.47 L590.42,143.46 L591.42,143.44 L592.42,143.43 L593.42,143.41 L594.42,143.40 L595.42,143.39 L596.42,143.37 L597.42,143.36 L598.42,143.35 L599.42,143.34 L600.42,143.33 L601.42,143.31 L602.42,143.30 L603.42,143.29 L604.42,143.28 L605.42,143.27 L606.42,143.26 L607.42,143.25 L608.42,143.24 L609.42,143.23 L610.42,143.22 L611.42,143.22 L612.42,143.21 L613.42,143.20 L614.42,143.19 L615.42,143.18 L616.42,143.17 L617.42,143.16 L618.42,143.15 L619.42,143.15 L620.42,143.14 L621.42,143.13 L622.42,143.12 L623.42,143.11 L624.42,143.11 L625.42,143.10 L626.42,143.09 L627.42,143.08 L628.42,143.07 L629.42,143.07 L630.42,143.06 L631.42,143.05 L632.42,143.04 L633.42,143.04 L634.42,143.03 L635.42,143.02 L636.42,143.01 L637.42,143.01 L638.41,143.00 L639.41,142.99 L640.40,142.99 L641.39,142.98 L642.38,142.97 L643.36,142.97 L644.33,142.96 L645.29,142.95 L646.24,142.95 L647.19,142.94 L648.12,142.94 L649.06,142.93 L650.00,142.93 L650.93,142.92 L651.83,142.91 L652.66,142.91 L653.35,142.91" fill="none" stroke="#ff0000" stroke-width="2.5" stroke-linejoin="round"/>
<rect x="24.05" y="0.2" width="630.5" height="390.40000000000003" fill="none" stroke="#666666" stroke-width="1"/>
<path d="M24.05,390.6 v-3.6 M24.05,0.2 v3.6 M45.07,390.6 v-2.3 M45.07,0.2 v2.3 M66.08,390.6 v-2.3 M66.08,0.2 v2.3 M87.10,390.6 v-2.3 M87.10,0.2 v2.3 M108.11,390.6 v-2.3 M108.11,0.2 v2.3 M129.13,390.6 v-3.6 M129.13,0.2 v3.6 M150.15,390.6 v-2.3 M150.15,0.2 v2.3 M171.16,390.6 v-2.3 M171.16,0.2 v2.3 M192.18,390.6 v-2.3 M192.18,0.2 v2.3 M213.19,390.6 v-2.3 M213.19,0.2 v2.3 M234.21,390.6 v-3.6 M234.21,0.2 v3.6 M255.23,390.6 v-2.3 M255.23,0.2 v2.3 M276.24,390.6 v-2.3 M276.24,0.2 v2.3 M297.26,390.6 v-2.3 M297.26,0.2 v2.3 M318.27,390.6 v-2.3 M318.27,0.2 v2.3 M339.29,390.6 v-3.6 M339.29,0.2 v3.6 M360.31,390.6 v-2.3 M360.31,0.2 v2.3 M381.32,390.6 v-2.3 M381.32,0.2 v2.3 M402.34,390.6 v-2.3 M402.34,0.2 v2.3 M423.35,390.6 v-2.3 M423.35,0.2 v2.3 M444.37,390.6 v-3.6 M444.37,0.2 v3.6 M465.39,390.6 v-2.3 M465.39,0.2 v2.3 M486.40,390.6 v-2.3 M486.40,0.2 v2.3 M507.42,390.6 v-2.3 M507.42,0.2 v2.3 M528.43,390.6 v-2.3 M528.43,0.2 v2.3 M549.45,390.6 v-3.6 M549.45,0.2 v3.6 M570.47,390.6 v-2.3 M570.47,0.2 v2.3 M591.48,390.6 v-2.3 M591.48,0.2 v2.3 M612.50,390.6 v-2.3 M612.50,0.2 v2.3 M633.51,390.6 v-2.3 M633.51,0.2 v2.3 M654.53,390.6 v-3.6 M654.53,0.2 v3.6 M24.05,390.43 h2.3 M654.55,390.43 h-2.3 M24.05,371.43 h2.3 M654.55,371.43 h-2.3 M24.05,352.43 h2.3 M654.55,352.43 h-2.3 M24.05,333.43 h3.6 M654.55,333.43 h-3.6 M24.05,314.43 h2.3 M654.55,314.43 h-2.3 M24.05,295.43 h2.3 M654.55,295.43 h-2.3 M24.05,276.43 h2.3 M654.55,276.43 h-2.3 M24.05,257.43 h2.3 M654.55,257.43 h-2.3 M24.05,238.43 h3.6 M654.55,238.43 h-3.6 M24.05,219.43 h2.3 M654.55,219.43 h-2.3 M24.05,200.43 h2.3 M654.55,200.43 h-2.3 M24.05,181.43 h2.3 M654.55,181.43 h-2.3 M24.05,162.43 h2.3 M654.55,162.43 h-2.3 M24.05,143.43 h3.6 M654.55,143.43 h-3.6 M24.05,124.43 h2.3 M654.55,124.43 h-2.3 M24.05,105.43 h2.3 M654.55,105.43 h-2.3 M24.05,86.43 h2.3 M654.55,86.43 h-2.3 M24.05,67.43 h2.3 M654.55,67.43 h-2.3 M24.05,48.43 h3.6 M654.55,48.43 h-3.6 M24.05,29.43 h2.3 M654.55,29.43 h-2.3 M24.05,10.43 h2.3 M654.55,10.43 h-2.3" fill="none" stroke="#666666" stroke-width="0.85"/>
<g font-size="16.3" fill="#666666"><text x="129.38" y="410.5" text-anchor="middle" letter-spacing="0.5">20</text><text x="234.46" y="410.5" text-anchor="middle" letter-spacing="0.5">30</text><text x="339.54" y="410.5" text-anchor="middle" letter-spacing="0.5">40</text><text x="444.62" y="410.5" text-anchor="middle" letter-spacing="0.5">50</text><text x="549.70" y="410.5" text-anchor="middle" letter-spacing="0.5">60</text><text x="654.78" y="410.5" text-anchor="middle" letter-spacing="0.5">70</text><path transform="translate(14.74,410.50) scale(0.007959)" d="M763,0H583V-1147Q518,-1085 412.5,-1023T223,-930V-1104Q373,-1174.5 485,-1275T644,-1466H763Z"/><text x="24.30" y="410.5">0</text><text x="19.8" y="149.63" text-anchor="end">0</text><text x="19.8" y="339.63" text-anchor="end">2</text><path transform="translate(10.74,54.63) scale(0.007959)" d="M763,0H583V-1147Q518,-1085 412.5,-1023T223,-930V-1104Q373,-1174.5 485,-1275T644,-1466H763Z"/><path transform="translate(10.74,244.63) scale(0.007959)" d="M763,0H583V-1147Q518,-1085 412.5,-1023T223,-930V-1104Q373,-1174.5 485,-1275T644,-1466H763Z"/><text x="0.25" y="245.63">−</text><text x="0.25" y="340.63">−</text></g>
<text x="339.2" y="440.5" font-size="21.2" fill="#666666" text-anchor="middle">N</text>
<!-- legend -->
<line x1="490" x2="517" y1="256.7" y2="256.7" stroke="#0000ff" stroke-width="2.5"/>
<line x1="490" x2="517" y1="292.2" y2="292.2" stroke="#ff0000" stroke-width="2.5"/>
<g fill="#000" font-size="20">
<text x="527.3" y="262.7" font-style="italic">κ</text>
<text x="538.5" y="253.8" font-size="14">2</text>
<text x="549.3" y="262.7" font-style="italic">θ</text>
<text x="560.3" y="266.6" font-size="14">,</text>
<g transform="translate(569.65,262.35)" fill="none" stroke="#000" stroke-width="1.15"><ellipse rx="4.15" ry="3.35" transform="skewX(-12.7)"/><line x1="1.42" y1="-6.3" x2="-1.46" y2="6.5"/></g>
<text x="575.0" y="262.7">H</text>
<g transform="translate(597.0,256.8)" fill="none" stroke="#000" stroke-width="1.5"><ellipse rx="5.0" ry="4.65" transform="skewX(-12.7)"/><line x1="2.05" y1="-9.1" x2="-2.16" y2="9.6"/></g>
<circle cx="596.3" cy="245.1" r="1.1"/>
<line x1="604.3" y1="262.9" x2="608.5" y2="248.0" stroke="#000" stroke-width="1.55"/>
<g fill="none" stroke="#000" stroke-linecap="round" stroke-linejoin="round"><path d="M612.8,252.5 C612.6,250.3 614.4,248.8 617.2,248.5 L627.6,247.6" stroke-width="1.3"/><path d="M627.4,247.8 C626.5,251.5 626.1,256.5 626.3,260.0 C626.4,261.5 626.9,262.3 627.9,262.3" stroke-width="1.7"/><path d="M622.6,248.4 C621.0,252.7 618.9,257.4 616.2,260.5 C614.4,262.5 612.0,263.0 610.5,261.8 C609.4,260.9 609.3,259.6 610.1,258.9" stroke-width="1.8"/><path d="M615.2,256.0 L626.4,255.6" stroke-width="1.0"/></g>
<text x="526.6" y="298.1" font-size="20.9" font-style="italic">δ</text>
<g transform="translate(544.2,297.55)" fill="none" stroke="#000" stroke-width="1.15"><ellipse rx="4.15" ry="3.35" transform="skewX(-12.7)"/><line x1="1.40" y1="-6.2" x2="-1.51" y2="6.7"/></g>
</g>
</svg>
</body></html>
